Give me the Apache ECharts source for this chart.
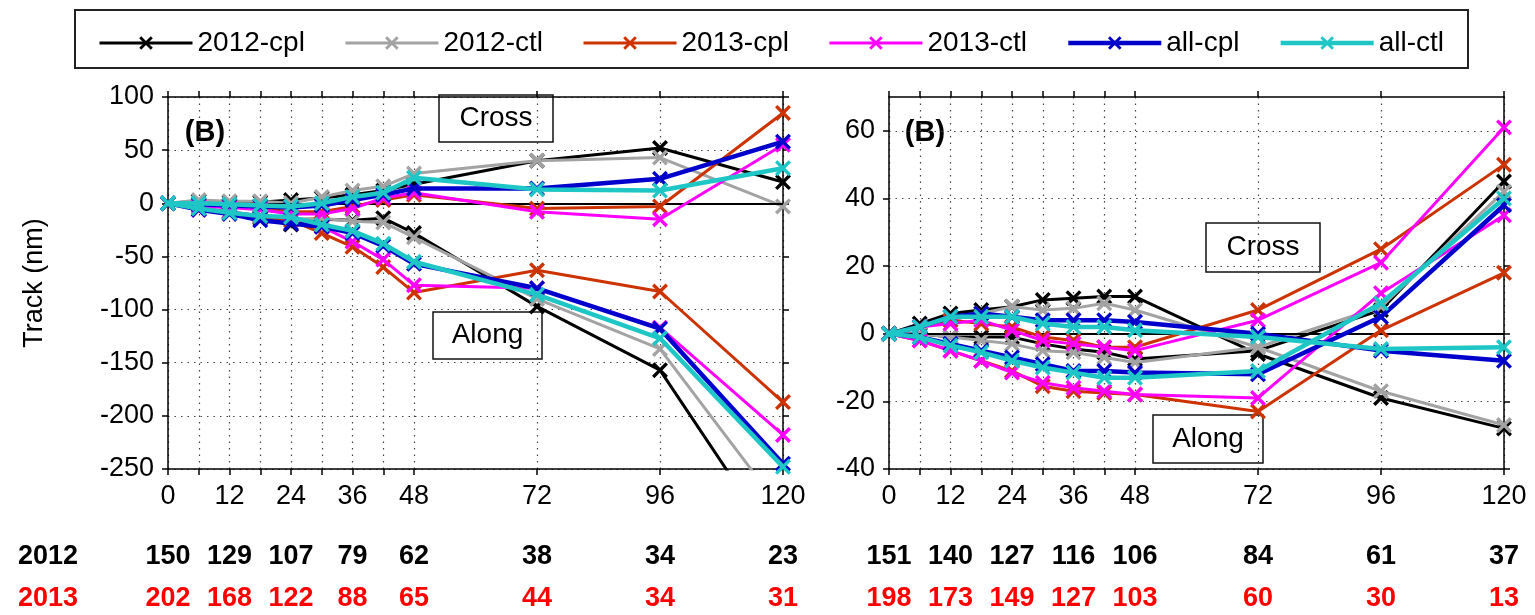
<!DOCTYPE html>
<html><head><meta charset="utf-8">
<script src="https://cdn.jsdelivr.net/npm/echarts@6/dist/echarts.min.js"></script>
<style>html,body{margin:0;padding:0;background:#fff}#c{width:1535px;height:615px}</style>
</head><body><div id="c"></div>
<script>
// ---------- DATA ----------
const hours = [0, 6, 12, 18, 24, 30, 36, 42, 48, 72, 96, 120];
const labelHours = [0, 12, 24, 36, 48, 72, 96, 120];
const seriesNames = ['2012-cpl', '2012-ctl', '2013-cpl', '2013-ctl', 'all-cpl', 'all-ctl'];

// Left panel cross-track
const L_cross_2012cpl = [0, 2, 1, 1, 3, 5, 8, 12, 18, 40, 52, 20];
const L_cross_2012ctl = [0, 3, 2, 2, 0, 6, 12, 16, 28, 40, 43, -3];
const L_cross_2013cpl = [0, -2, -3, -5, -8, -8, -3, 3, 8, -5, -3, 85];
const L_cross_2013ctl = [0, -3, -4, -6, -10, -10, -5, 5, 10, -8, -15, 55];
const L_cross_allcpl  = [0, -1, -2, -3, -4, -2, 3, 8, 14, 14, 23, 58];
const L_cross_allctl  = [0, 0, -1, -2, -3, 0, 6, 10, 24, 13, 12, 33];
// Left panel along-track
const L_along_2012cpl = [0, -5, -8, -14, -20, -15, -16, -14, -28, -97, -157, -330];
const L_along_2012ctl = [0, -5, -8, -12, -15, -14, -17, -18, -32, -90, -137, -290];
const L_along_2013cpl = [0, -6, -9, -13, -16, -28, -41, -60, -84, -63, -83, -187];
const L_along_2013ctl = [0, -6, -8, -12, -13, -22, -36, -53, -77, -80, -117, -218];
const L_along_allcpl  = [0, -6, -10, -16, -19, -22, -28, -40, -57, -80, -118, -245];
const L_along_allctl  = [0, -5, -9, -12, -13, -20, -26, -38, -55, -86, -127, -248];

// Right panel cross-track
const R_cross_2012cpl = [0, 3, 6, 7, 8, 10, 10.5, 11, 11, -6, -19, -28];
const R_cross_2012ctl = [0, 2, 4, 6, 8, 7, 7.5, 9, 7, -4, -17, -27];
const R_cross_2013cpl = [0, 2, 4, 3, 2, -1, -2, -4, -4, 7, 25, 50];
const R_cross_2013ctl = [0, 2, 3, 4, 1, -2, -3, -4, -5, 4, 21, 61];
const R_cross_allcpl  = [0, 2, 5, 6, 5, 4, 4, 4, 3.5, 0, -5, -8];
const R_cross_allctl  = [0, 2, 5, 5, 5, 3, 2, 2, 1, -1, -4.5, -4];
// Right panel along-track
const R_along_2012cpl = [0, 0, -1, -1, -1, -3, -4.5, -5.5, -7.5, -5, 7, 45];
const R_along_2012ctl = [0, 0, -1, -2, -3, -5, -5.5, -7, -8.5, -4, 8, 42];
const R_along_2013cpl = [0, -2, -5, -8, -11, -15.5, -17, -17.5, -18, -23, 1, 18];
const R_along_2013ctl = [0, -2, -5, -8, -11.5, -14.5, -16, -17, -18, -19, 12, 35];
const R_along_allcpl  = [0, -1, -3, -5, -7, -9, -11, -11, -11.5, -12, 5, 38];
const R_along_allctl  = [0, -1, -3.5, -5.5, -8, -10, -11.5, -13, -13, -11, 9, 40];

// Sample counts under each panel
const L_count2012 = [150, 129, 107, 79, 62, 38, 34, 23];
const L_count2013 = [202, 168, 122, 88, 65, 44, 34, 31];
const R_count2012 = [151, 140, 127, 116, 106, 84, 61, 37];
const R_count2013 = [198, 173, 149, 127, 103, 60, 30, 13];

const L_yTicks = [-250, -200, -150, -100, -50, 0, 50, 100];
const R_yTicks = [-40, -20, 0, 20, 40, 60];

// ---------- STYLE ----------
const FONT = '"Liberation Sans", Arial, sans-serif';
const colors = { '2012-cpl': '#000000', '2012-ctl': '#a3a3a3', '2013-cpl': '#cc3300', '2013-ctl': '#ff00ff', 'all-cpl': '#0000cc', 'all-ctl': '#1fc6c6' };
const widths = { '2012-cpl': 3, '2012-ctl': 3, '2013-cpl': 3, '2013-ctl': 3, 'all-cpl': 4.5, 'all-ctl': 4.5 };
const XSYM = 'path://M1.5,0L5,3.5L8.5,0L10,1.5L6.5,5L10,8.5L8.5,10L5,6.5L1.5,10L0,8.5L3.5,5L0,1.5Z';

const panels = [
  { xi: 0, yi: 0, cross: [L_cross_2012cpl, L_cross_2012ctl, L_cross_2013cpl, L_cross_2013ctl, L_cross_allcpl, L_cross_allctl],
    along: [L_along_2012cpl, L_along_2012ctl, L_along_2013cpl, L_along_2013ctl, L_along_allcpl, L_along_allctl] },
  { xi: 4, yi: 2, cross: [R_cross_2012cpl, R_cross_2012ctl, R_cross_2013cpl, R_cross_2013ctl, R_cross_allcpl, R_cross_allctl],
    along: [R_along_2012cpl, R_along_2012ctl, R_along_2013cpl, R_along_2013ctl, R_along_allcpl, R_along_allctl] }
];

const series = [];
panels.forEach(p => {
  seriesNames.forEach((nm, k) => {
    [p.cross[k], p.along[k]].forEach((arr, j) => {
      const s = {
        type: 'line', name: nm, xAxisIndex: p.xi, yAxisIndex: p.yi,
        data: hours.map((h, i) => [h, arr[i]]),
        symbol: XSYM, symbolSize: 16, showSymbol: true,
        lineStyle: { color: colors[nm], width: widths[nm] },
        itemStyle: { color: colors[nm] },
        animation: false, silent: true, clip: true, z: 3 + k
      };
      if (k === 0 && j === 0) {
        s.markLine = { silent: true, symbol: ['none', 'none'], label: { show: false },
          lineStyle: { color: '#000', width: 2, type: 'solid' }, data: [{ yAxis: 0 }] };
      }
      series.push(s);
    });
  });
});

const SPLIT = { show: true, lineStyle: { color: '#444', width: 1.2, type: [1.5, 5] } };
function mainX(grid) {
  return { type: 'value', gridIndex: grid, min: 0, max: 120, position: 'bottom',
    axisLine: { onZero: false, lineStyle: { color: '#000', width: 1.5 } },
    axisTick: { show: true, inside: false, length: 6, customValues: hours, lineStyle: { color: '#000', width: 1.5 } },
    axisLabel: { customValues: labelHours, color: '#000', fontSize: 27, fontFamily: FONT, margin: 14 },
    splitLine: SPLIT };
}
function topX(grid) {
  return { type: 'value', gridIndex: grid, min: 0, max: 120, position: 'top',
    axisLine: { onZero: false, lineStyle: { color: '#000', width: 1.5 } },
    axisTick: { show: true, length: 6, customValues: hours, lineStyle: { color: '#000', width: 1.5 } },
    axisLabel: { show: false }, splitLine: { show: false } };
}
function countX(grid, arr, offset, color) {
  return { type: 'value', gridIndex: grid, min: 0, max: 120, position: 'bottom', offset: offset,
    axisLine: { show: false, onZero: false }, axisTick: { show: false }, splitLine: { show: false },
    axisLabel: { customValues: labelHours, color: color, fontSize: 27, fontWeight: 'bold', fontFamily: FONT, margin: 8,
      formatter: v => String(arr[labelHours.indexOf(v)]) } };
}
function leftY(grid, min, max, ticks, name) {
  return { type: 'value', gridIndex: grid, min: min, max: max, position: 'left',
    name: name, nameLocation: 'middle', nameGap: 120, nameRotate: 90,
    nameTextStyle: { fontSize: 27, fontFamily: FONT, color: '#000' },
    axisLine: { show: true, onZero: false, lineStyle: { color: '#000', width: 1.5 } },
    axisTick: { show: true, length: 6, customValues: ticks, lineStyle: { color: '#000', width: 1.5 } },
    axisLabel: { customValues: ticks, color: '#000', fontSize: 27, fontFamily: FONT, margin: 14 },
    splitLine: SPLIT };
}
function rightY(grid, min, max, ticks) {
  return { type: 'value', gridIndex: grid, min: min, max: max, position: 'right',
    axisLine: { show: true, onZero: false, lineStyle: { color: '#000', width: 1.5 } },
    axisTick: { show: true, length: 6, customValues: ticks, lineStyle: { color: '#000', width: 1.5 } },
    axisLabel: { show: false }, splitLine: { show: false } };
}

function boxText(x, y, w, h, txt, fs, bold, border) {
  return { type: 'group', x: x, y: y, z: 50, silent: true, children: [
    border ? { type: 'rect', shape: { x: 0, y: 0, width: w, height: h }, style: { fill: '#fff', stroke: '#111', lineWidth: 1.5 } } : null,
    { type: 'text', x: w / 2, y: h / 2, style: { text: txt, fill: '#000', font: (bold ? 'bold ' : '') + fs + 'px ' + FONT, textAlign: 'center', textVerticalAlign: 'middle' } }
  ].filter(Boolean) };
}

const option = {
  backgroundColor: '#fff',
  animation: false,
  grid: [
    { left: 168, right: 752, top: 97, bottom: 146, containLabel: false },
    { left: 889, right: 31, top: 97, bottom: 146, containLabel: false }
  ],
  xAxis: [mainX(0), topX(0), countX(0, L_count2012, 66, '#000'), countX(0, L_count2013, 108, '#ff0000'),
          mainX(1), topX(1), countX(1, R_count2012, 66, '#000'), countX(1, R_count2013, 108, '#ff0000')],
  yAxis: [leftY(0, -250, 100, L_yTicks, 'Track (nm)'), rightY(0, -250, 100, L_yTicks),
          leftY(1, -40, 70, R_yTicks, ''), rightY(1, -40, 70, R_yTicks)],
  legend: {
    left: 93, top: 24, itemWidth: 93, itemHeight: 17, itemGap: 39,
    textStyle: { fontSize: 28, fontFamily: FONT, color: '#000' },
    lineStyle: { width: 'inherit' },
    data: seriesNames, selectedMode: false
  },
  graphic: [
    { type: 'rect', shape: { x: 75, y: 10, width: 1393, height: 58 }, style: { fill: 'none', stroke: '#222', lineWidth: 2 }, z: 0, silent: true },
    boxText(175, 113, 60, 40, '(B)', 29, true, false),
    boxText(895, 113, 60, 40, '(B)', 29, true, false),
    boxText(439, 95, 114, 47, 'Cross', 28, false, true),
    boxText(433, 312, 109, 47, 'Along', 28, false, true),
    boxText(1206, 223, 114, 49, 'Cross', 28, false, true),
    boxText(1153, 415, 110, 48, 'Along', 28, false, true),
    { type: 'text', left: 18, top: 543, style: { text: '2012', fill: '#000', font: 'bold 27px ' + FONT } },
    { type: 'text', left: 18, top: 585, style: { text: '2013', fill: '#ff0000', font: 'bold 27px ' + FONT } }
  ],
  series: series
};

const chart = echarts.init(document.getElementById('c'), null, { renderer: 'canvas' });
chart.setOption(option);
</script></body></html>
